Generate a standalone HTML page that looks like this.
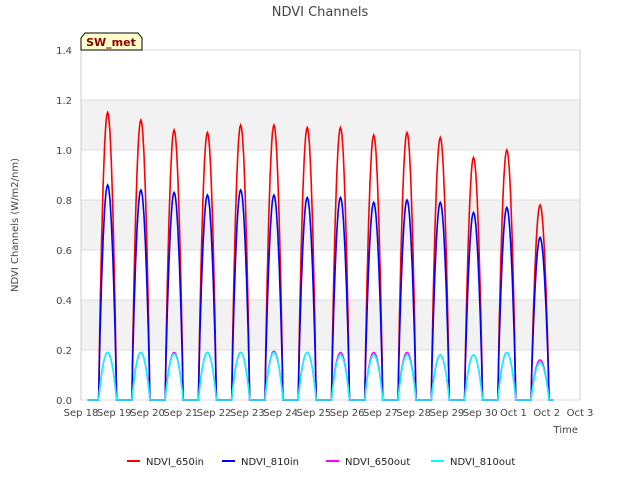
<!DOCTYPE html>
<html><head><meta charset="utf-8"><style>
body{margin:0;background:#fff;font-family:"Liberation Sans","DejaVu Sans",sans-serif}
svg text{font-family:"DejaVu Sans","Liberation Sans",sans-serif}
</style></head><body>
<svg id="chart" width="640" height="480" xmlns="http://www.w3.org/2000/svg">
<rect width="640" height="480" fill="#fff"/>
<g id="bands"></g><g id="grid"></g><g id="series"></g><g id="axes"></g>
<text x="320" y="16" text-anchor="middle" font-size="13" fill="#444">NDVI Channels</text>
<text transform="translate(18,225) rotate(-90)" text-anchor="middle" font-size="10" fill="#444">NDVI Channels (W/m2/nm)</text>
<text x="578" y="433" text-anchor="end" font-size="10" fill="#444">Time</text>
<g>
<path d="M81,50 L81,38 L85,33 L138,33 L142,38 L142,50 Z" fill="#ffffcc" stroke="#000" stroke-width="1"/>
<text x="111" y="46" text-anchor="middle" font-size="11" font-weight="bold" fill="#8b0000">SW_met</text>
</g>
<g id="legend"></g>
</svg>
<script>
const dayLabels=["Sep 18","Sep 19","Sep 20","Sep 21","Sep 22","Sep 23","Sep 24","Sep 25","Sep 26","Sep 27","Sep 28","Sep 29","Sep 30","Oct 1","Oct 2","Oct 3"];
const yTicks=[0.0,0.2,0.4,0.6,0.8,1.0,1.2,1.4];
const peak650in=[1.15,1.12,1.08,1.07,1.10,1.10,1.09,1.09,1.06,1.07,1.05,0.97,1.00,0.78];
const peak810in=[0.86,0.84,0.83,0.82,0.84,0.82,0.81,0.81,0.79,0.80,0.79,0.75,0.77,0.65];
const peak650out=[0.19,0.19,0.19,0.19,0.19,0.195,0.19,0.19,0.19,0.19,0.18,0.18,0.19,0.16];
const peak810out=[0.19,0.19,0.185,0.19,0.19,0.19,0.19,0.18,0.18,0.18,0.18,0.18,0.19,0.15];
const seriesNames=["NDVI_650in","NDVI_810in","NDVI_650out","NDVI_810out"];
const seriesColors=["#ff0000","#0000ff","#ff00ff","#00ffff"];
const L=81,R=580,T=50,B=400;
const x=d=>L+(R-L)*d/15;
const y=v=>B-(B-T)*v/1.4;
const NS="http://www.w3.org/2000/svg";
function mk(tag,attrs,parent){const e=document.createElementNS(NS,tag);for(const k in attrs)e.setAttribute(k,attrs[k]);parent.appendChild(e);return e;}
const bands=document.getElementById('bands'),grid=document.getElementById('grid'),axes=document.getElementById('axes'),ser=document.getElementById('series'),leg=document.getElementById('legend');
for(let i=0;i<yTicks.length-1;i++){if(i%2==1){const r=mk('rect',{x:L,y:y(yTicks[i+1]),width:R-L,height:y(yTicks[i])-y(yTicks[i+1]),fill:'#f2f2f2'},bands);

}}
yTicks.forEach(v=>{const l=mk('line',{x1:L,x2:R,y1:y(v),y2:y(v),stroke:'#dddddd'},grid);


const t=mk('text',{x:L-9,y:y(v)+4,'text-anchor':'end','font-size':'10',fill:'#444'},axes);t.textContent=v.toFixed(1);

});
mk('line',{x1:L,x2:L,y1:T,y2:B,stroke:'#ccc'},grid);mk('line',{x1:R,x2:R,y1:T,y2:B,stroke:'#ccc'},grid);
dayLabels.forEach((s,i)=>{const t=mk('text',{x:x(i),y:B+16,'text-anchor':'middle','font-size':'10',fill:'#444'},axes);t.textContent=s;

});
const peaks=[peak650in,peak810in,peak650out,peak810out];
peaks.forEach((arr,si)=>{let pts=[[x(0.2),y(0)]];
arr.forEach((p,d)=>{const s=d+0.53,e=d+1.07;pts.push([x(s-0.01),y(0)]);
for(let k=0;k<=24;k++){const t=k/24;const v=p*Math.pow(Math.sin(Math.PI*t),0.85);pts.push([x(s+(e-s)*t),y(v)]);}});
pts.push([x(14.2),y(0)]);
const pl=mk('polyline',{points:pts.map(p=>p[0].toFixed(1)+','+p[1].toFixed(1)).join(' '),fill:'none',stroke:seriesColors[si],'stroke-width':'1.6'},ser);

});
const lx=[127,222,326,431];
seriesNames.forEach((n,i)=>{const g=mk('g',{},leg);


mk('line',{x1:lx[i],x2:lx[i]+13,y1:461,y2:461,stroke:seriesColors[i],'stroke-width':'2'},g);
const t=mk('text',{x:lx[i]+19,y:465,'font-size':'10',fill:'#222'},g);t.textContent=n;});
</script>
</body></html>
